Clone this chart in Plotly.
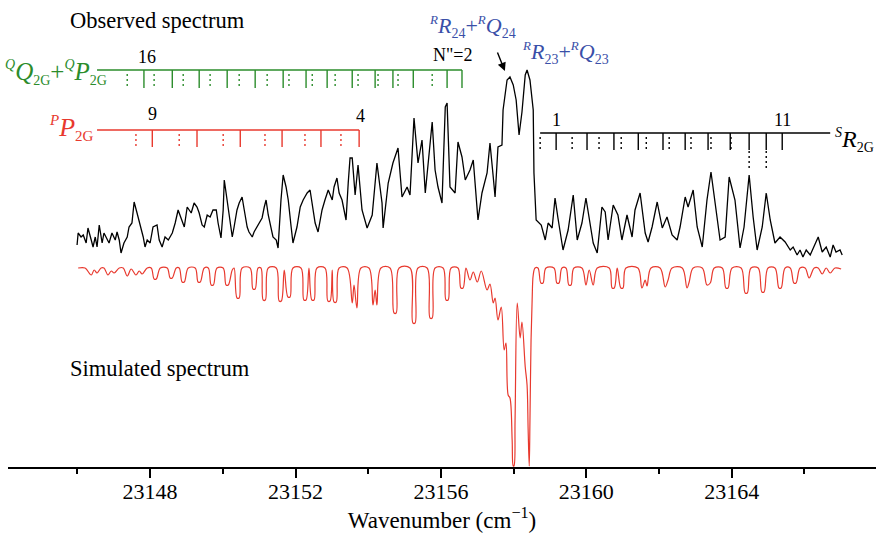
import plotly.graph_objects as go

# ---------------- data ----------------
# Observed spectrum: wavenumber (cm^-1) and intensity (arb. units)
obs_wn = [
    23145.99, 23146.02, 23146.10, 23146.16, 23146.24, 23146.29, 23146.38, 23146.43, 23146.49, 23146.54,
    23146.60, 23146.68, 23146.73, 23146.82, 23146.87, 23146.95, 23147.04, 23147.09, 23147.15, 23147.20,
    23147.28, 23147.37, 23147.42, 23147.50, 23147.56, 23147.64, 23147.72, 23147.81, 23147.86, 23147.92,
    23148.00, 23148.08, 23148.19, 23148.25, 23148.33, 23148.41, 23148.50, 23148.61, 23148.69, 23148.77,
    23148.85, 23148.94, 23149.02, 23149.13, 23149.21, 23149.29, 23149.35, 23149.43, 23149.49, 23149.57,
    23149.65, 23149.73, 23149.82, 23149.87, 23149.95, 23150.01, 23150.04, 23150.12, 23150.17, 23150.26,
    23150.31, 23150.39, 23150.45, 23150.53, 23150.59, 23150.67, 23150.72, 23150.81, 23150.86, 23150.94,
    23151.00, 23151.08, 23151.14, 23151.19, 23151.25, 23151.33, 23151.38, 23151.47, 23151.52, 23151.60,
    23151.66, 23151.74, 23151.80, 23151.88, 23151.93, 23152.04, 23152.13, 23152.21, 23152.32, 23152.40,
    23152.48, 23152.54, 23152.62, 23152.73, 23152.81, 23152.90, 23153.01, 23153.06, 23153.14, 23153.20,
    23153.28, 23153.34, 23153.39, 23153.45, 23153.50, 23153.56, 23153.64, 23153.72, 23153.83, 23153.97,
    23154.11, 23154.24, 23154.38, 23154.41, 23154.55, 23154.68, 23154.82, 23154.93, 23155.07, 23155.15,
    23155.26, 23155.37, 23155.48, 23155.57, 23155.65, 23155.76, 23155.84, 23155.92, 23156.03, 23156.12,
    23156.17, 23156.25, 23156.39, 23156.47, 23156.58, 23156.67, 23156.80, 23156.89, 23157.02, 23157.13,
    23157.27, 23157.35, 23157.44, 23157.49, 23157.57, 23157.68, 23157.71, 23157.82, 23157.90, 23157.99,
    23158.07, 23158.15, 23158.23, 23158.32, 23158.37, 23158.45, 23158.54, 23158.56, 23158.62, 23158.67,
    23158.76, 23158.87, 23158.95, 23159.06, 23159.14, 23159.22, 23159.36, 23159.50, 23159.64, 23159.75,
    23159.88, 23159.99, 23160.10, 23160.19, 23160.30, 23160.43, 23160.52, 23160.60, 23160.74, 23160.87,
    23160.98, 23161.12, 23161.26, 23161.34, 23161.48, 23161.62, 23161.70, 23161.81, 23161.95, 23162.09,
    23162.22, 23162.36, 23162.50, 23162.58, 23162.72, 23162.80, 23162.94, 23163.05, 23163.19, 23163.32,
    23163.43, 23163.54, 23163.68, 23163.82, 23163.93, 23164.09, 23164.23, 23164.34, 23164.48, 23164.59,
    23164.70, 23164.84, 23164.95, 23165.06, 23165.19, 23165.33, 23165.47, 23165.61, 23165.69, 23165.80,
    23165.88, 23165.96, 23166.05, 23166.16, 23166.24, 23166.38, 23166.49, 23166.60, 23166.71, 23166.79,
    23166.87, 23166.98, 23167.04,
]
obs_int = [
    15, 27, 23, 25, 17, 32, 20, 13, 23, 13,
    35, 17, 27, 20, 17, 27, 20, 28, 20, 7,
    17, 23, 33, 37, 58, 47, 37, 23, 13, 20,
    17, 33, 35, 20, 13, 23, 20, 27, 37, 50,
    42, 33, 53, 47, 57, 53, 47, 35, 33, 45,
    43, 50, 50, 37, 22, 50, 80, 60, 43, 23,
    33, 50, 57, 63, 50, 33, 28, 23, 28, 33,
    37, 42, 53, 60, 45, 30, 23, 20, 12, 60,
    85, 73, 60, 33, 17, 33, 53, 60, 67, 70,
    53, 37, 28, 50, 60, 70, 60, 73, 82, 67,
    60, 47, 40, 77, 102, 102, 65, 95, 50, 32,
    45, 97, 57, 32, 77, 97, 112, 63, 73, 65,
    142, 97, 120, 67, 100, 138, 90, 73, 57, 153,
    157, 73, 67, 118, 103, 80, 90, 100, 40, 67,
    87, 117, 83, 63, 113, 115, 150, 180, 183, 175,
    160, 125, 148, 185, 190, 180, 150, 87, 40, 38,
    35, 20, 37, 32, 62, 42, 10, 30, 65, 20,
    37, 62, 37, 17, 7, 53, 48, 20, 55, 45,
    20, 45, 23, 50, 67, 27, 18, 33, 58, 32,
    43, 25, 20, 33, 63, 53, 70, 33, 13, 60,
    88, 60, 20, 23, 83, 60, 12, 33, 85, 43,
    10, 33, 67, 40, 17, 23, 18, 10, 13, 5,
    10, 3, 10, 5, 12, 23, 8, 13, 3, 15,
    8, 10, 5,
]

# Simulated spectrum: wavenumber (cm^-1) and absorption depth (arb. units)
sim_wn = [
    23146.02, 23146.21, 23146.38, 23146.46, 23146.54, 23146.65, 23146.73, 23146.84, 23146.93, 23147.01,
    23147.15, 23147.26, 23147.37, 23147.48, 23147.61, 23147.70, 23147.78, 23147.92, 23148.03, 23148.11,
    23148.17, 23148.28, 23148.47, 23148.55, 23148.61, 23148.72, 23148.80, 23148.88, 23148.94, 23149.05,
    23149.24, 23149.32, 23149.38, 23149.49, 23149.60, 23149.68, 23149.74, 23149.84, 23150.01, 23150.09,
    23150.15, 23150.26, 23150.31, 23150.39, 23150.45, 23150.53, 23150.75, 23150.83, 23150.89, 23150.97,
    23151.05, 23151.11, 23151.17, 23151.25, 23151.47, 23151.55, 23151.61, 23151.69, 23151.79, 23151.85,
    23151.93, 23152.15, 23152.23, 23152.29, 23152.37, 23152.45, 23152.51, 23152.59, 23152.81, 23152.89,
    23152.95, 23153.01, 23153.06, 23153.12, 23153.20, 23153.42, 23153.56, 23153.61, 23153.69, 23153.80,
    23154.02, 23154.13, 23154.19, 23154.24, 23154.35, 23154.60, 23154.71, 23154.77, 23154.85, 23155.15,
    23155.23, 23155.29, 23155.37, 23155.62, 23155.70, 23155.76, 23155.84, 23156.06, 23156.14, 23156.20,
    23156.28, 23156.47, 23156.55, 23156.61, 23156.69, 23156.80, 23156.89, 23157.00, 23157.11, 23157.27,
    23157.35, 23157.44, 23157.49, 23157.57, 23157.66, 23157.74, 23157.79, 23157.85, 23157.90, 23157.96,
    23157.99, 23158.01, 23158.04, 23158.10, 23158.18, 23158.23, 23158.32, 23158.37, 23158.40, 23158.43,
    23158.45, 23158.48, 23158.51, 23158.54, 23158.59, 23158.67, 23158.75, 23158.81, 23158.89, 23159.11,
    23159.19, 23159.25, 23159.33, 23159.44, 23159.52, 23159.58, 23159.66, 23159.88, 23159.99, 23160.08,
    23160.19, 23160.30, 23160.63, 23160.71, 23160.77, 23160.85, 23160.95, 23161.01, 23161.09, 23161.42,
    23161.53, 23161.62, 23161.67, 23161.78, 23162.03, 23162.17, 23162.25, 23162.36, 23162.64, 23162.77,
    23162.83, 23162.94, 23163.19, 23163.32, 23163.41, 23163.52, 23163.74, 23163.84, 23163.90, 23164.01,
    23164.26, 23164.37, 23164.43, 23164.53, 23164.73, 23164.83, 23164.89, 23165.00, 23165.19, 23165.30,
    23165.36, 23165.47, 23165.61, 23165.71, 23165.77, 23165.88, 23166.02, 23166.13, 23166.27, 23166.38,
    23166.49, 23166.60, 23166.71, 23166.84, 23167.01,
]
sim_depth = [
    0, 0, 7, 2, 5, 0, 0, 7, 3, 5,
    0, 0, 8, 1, 7, 3, 6, 0, 0, 11,
    11, 0, 0, 10, 10, 0, 0, 14, 14, 0,
    0, 14, 14, 0, 0, 17, 17, 0, 0, 17,
    17, 2, 0, 30, 30, 0, 0, 21, 21, 0,
    0, 32, 32, 0, 0, 33, 33, 2, 29, 29,
    0, 0, 32, 32, 0, 32, 32, 0, 0, 33,
    33, 2, 34, 34, 0, 0, 35, 17, 40, 0,
    0, 37, 22, 37, 0, 0, 45, 45, 0, 0,
    55, 55, 0, 0, 50, 50, 0, 0, 32, 32,
    0, 0, 20, 20, 0, 12, 4, 14, 3, 22,
    16, 35, 30, 52, 39, 82, 75, 127, 130, 172,
    198, 198, 152, 35, 70, 54, 99, 117, 162, 198,
    152, 72, 32, 7, 0, 0, 15, 15, 0, 0,
    15, 15, 0, 0, 17, 17, 0, 0, 17, 2,
    17, 0, 0, 20, 20, 0, 20, 20, 0, 0,
    20, 12, 18, 0, 0, 19, 12, 0, 0, 20,
    14, 0, 0, 17, 15, 0, 0, 20, 20, 0,
    0, 25, 25, 0, 0, 24, 24, 0, 0, 20,
    20, 0, 0, 15, 15, 0, 0, 10, 0, 0,
    6, 0, 5, 0, 1,
]

# Rotational assignment ladders (line positions, cm^-1)
qq_solid = [23147.83, 23148.61, 23149.35, 23150.12, 23150.89, 23151.66, 23152.29, 23152.87,
            23153.56, 23154.19, 23154.68, 23155.24, 23156.17, 23156.58]
qq_dotted = [23147.37, 23148.11, 23148.91, 23149.65, 23150.45, 23151.22, 23151.82, 23152.46,
             23153.09, 23153.72, 23154.27, 23154.82, 23155.76]
pp_solid = [23148.06, 23149.29, 23150.48, 23151.63, 23152.70, 23153.75]
pp_dotted = [23147.61, 23148.80, 23150.01, 23151.16, 23152.26, 23153.25]
sr_solid = [23159.17, 23160.02, 23160.76, 23161.43, 23162.11, 23162.72, 23163.35, 23163.96,
            23164.48, 23164.95, 23165.39]
sr_dotted = [23158.73, 23159.61, 23160.35, 23160.96, 23161.65, 23162.28, 23162.88, 23163.43,
             23163.98]
sr_long_dotted = [23164.48, 23164.95]
ladder_start = {"qq": 23146.54, "pp": 23146.54, "sr": 23158.73}
ladder_end = {"qq": 23156.58, "pp": 23153.75, "sr": 23166.71}

# ---------------- styling ----------------
FONT = "Liberation Serif, Times New Roman, serif"
GREEN = "#2b8c2b"
RED = "#e8392e"
BLUE = "#3a4fa8"
H = 467          # plot-area height (y-axis units)
W0, W1 = 8, 876  # plot-area left/right in page pixels
OBS_OFFSET = 207
SIM_BASE = 199


def px(xp):
    """Horizontal page pixel -> paper fraction."""
    return (xp - W0) / (W1 - W0)


def yv(yp):
    """Vertical page pixel -> y-axis value."""
    return H - yp


def sup(s, size):
    return f'<sup><span style="font-size:{size}px"><i>{s}</i></span></sup>'


def sub(s, size):
    return f'<sub><span style="font-size:{size}px">{s}</span></sub>'


fig = go.Figure()

fig.add_trace(go.Scatter(
    x=obs_wn, y=[OBS_OFFSET + v for v in obs_int], mode="lines",
    line=dict(color="black", width=1.3), hoverinfo="skip", showlegend=False))

fig.add_trace(go.Scatter(
    x=sim_wn, y=[SIM_BASE - v for v in sim_depth], mode="lines",
    line=dict(color=RED, width=1.2, shape="spline", smoothing=1.0),
    hoverinfo="skip", showlegend=False))


def ticks(xs, y_top, y_bot):
    xx, yy = [], []
    for x in xs:
        xx += [x, x, None]
        yy += [y_top, y_bot, None]
    return xx, yy


def ladder(key, solid, dotted, color, y_line, y_solid_bot, y_dot_top, y_dot_bot):
    fig.add_trace(go.Scatter(
        x=[ladder_start[key], ladder_end[key]], y=[y_line, y_line], mode="lines",
        line=dict(color=color, width=1.4), hoverinfo="skip", showlegend=False))
    xx, yy = ticks(solid, y_line, y_solid_bot)
    fig.add_trace(go.Scatter(x=xx, y=yy, mode="lines", line=dict(color=color, width=1.4),
                             hoverinfo="skip", showlegend=False))
    xx, yy = ticks(dotted, y_dot_top, y_dot_bot)
    fig.add_trace(go.Scatter(x=xx, y=yy, mode="lines",
                             line=dict(color=color, width=1.4, dash="2px,3px"),
                             hoverinfo="skip", showlegend=False))


ladder("qq", qq_solid, qq_dotted, GREEN, yv(70), yv(88), yv(74), yv(88))
ladder("pp", pp_solid, pp_dotted, RED, yv(130), yv(147), yv(134), yv(146))
ladder("sr", sr_solid, sr_dotted, "black", yv(133), yv(150), yv(137), yv(149))
xx, yy = ticks(sr_long_dotted, yv(151), yv(168))
fig.add_trace(go.Scatter(x=xx, y=yy, mode="lines",
                         line=dict(color="black", width=1.4, dash="2px,3px"),
                         hoverinfo="skip", showlegend=False))

ann = []


def text(x, y, s, size, color="black", xanchor="center", yanchor="middle", xref="paper"):
    ann.append(dict(x=x, y=y, xref=xref, yref="y", text=s, showarrow=False,
                    xanchor=xanchor, yanchor=yanchor,
                    font=dict(family=FONT, size=size, color=color)))


text(px(157), yv(20), "Observed spectrum", 22.5)
text(px(160), yv(368), "Simulated spectrum", 22.5)

# ladder numbering
text(qq_solid[0] + 0.09, yv(57), "16", 18, xref="x")
text(23156.34, yv(55), "N\"=2", 18, xref="x")
text(pp_solid[0], yv(114), "9", 18, xref="x")
text(pp_solid[-1] + 0.05, yv(116), "4", 18, xref="x")
text(sr_solid[0], yv(120), "1", 18, xref="x")
text(sr_solid[-1], yv(120), "11", 18, xref="x")

# branch labels
text(px(109), yv(72),
     sup("Q", 14) + "<i>Q</i>" + sub("2G", 14) + "+" + sup("Q", 14) + "<i>P</i>" + sub("2G", 14),
     25, GREEN, xanchor="right", yanchor="middle")
text(px(96), yv(128), sup("P", 15) + "<i>P</i>" + sub("2G", 15), 26, RED,
     xanchor="right", yanchor="middle")
text(px(833), yv(140), sup("S", 14) + "<i>R</i>" + sub("2G", 14), 24, "black",
     xanchor="left", yanchor="middle")
text(px(427), yv(26),
     sup("R", 13) + "<i>R</i>" + sub("24", 14) + "+" + sup("R", 13) + "<i>Q</i>" + sub("24", 14),
     22, BLUE, xanchor="left", yanchor="middle")
text(px(520), yv(52),
     sup("R", 13) + "<i>R</i>" + sub("23", 14) + "+" + sup("R", 13) + "<i>Q</i>" + sub("23", 14),
     22, BLUE, xanchor="left", yanchor="middle")

# arrow pointing at the band head
ann.append(dict(x=23157.76, y=yv(71), xref="x", yref="y", ax=-8, ay=-20,
                showarrow=True, arrowhead=2, arrowsize=1.2, arrowwidth=1.4,
                arrowcolor="black", text=""))

fig.update_layout(
    width=876, height=539,
    margin=dict(l=W0, r=876 - W1, t=0, b=539 - 467),
    paper_bgcolor="white", plot_bgcolor="white",
    annotations=ann,
    xaxis=dict(
        range=[23144.09, 23167.97], showgrid=False, zeroline=False,
        showline=True, linecolor="black", linewidth=2,
        ticks="outside", ticklen=9, tickwidth=1.5, tickcolor="black",
        tick0=23148, dtick=4, tickformat="d", ticklabelstandoff=-5,
        minor=dict(dtick=2, ticklen=5, tickwidth=1.5, ticks="outside", tickcolor="black"),
        tickfont=dict(family=FONT, size=22, color="black"),
        title=dict(text="Wavenumber (cm<sup>−1</sup>)", standoff=3,
                   font=dict(family=FONT, size=23, color="black")),
    ),
    yaxis=dict(range=[0, H], visible=False, fixedrange=True),
)

fig.write_html("out.html")
